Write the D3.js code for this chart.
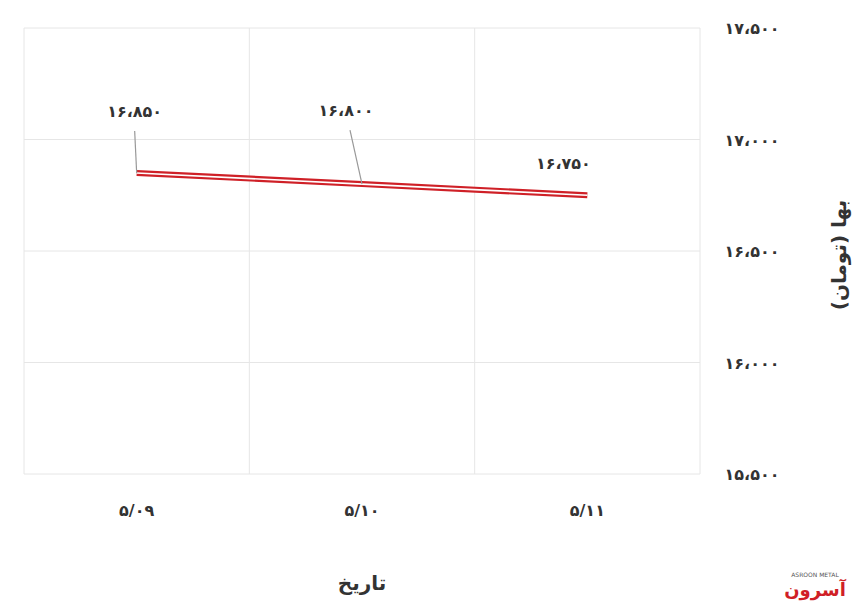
<!DOCTYPE html>
<html><head><meta charset="utf-8">
<script src="https://cdn.jsdelivr.net/npm/d3@7"></script>
<style>body{margin:0;background:#fff}text{font-family:"DejaVu Sans",sans-serif}</style>
</head><body><svg id="c" width="860" height="608"></svg>
<script>
const categories=["5/09","5/10","5/11"];
const values=[16850,16800,16750];
const yTicks=[15500,16000,16500,17000,17500];
const labelOffsets=[[-2,-60],[-12,-72],[-20,-30]];
const fa=s=>String(s).replace(/\d/g,d=>"۰۱۲۳۴۵۶۷۸۹"[d]);
const faNum=n=>fa(d3.format(",")(n)).replace(/,/g,"،");
const svg=d3.select("#c");
const L=24,R=700,T=28,B=474;
const x=d3.scaleBand().domain(categories).range([L,R]);
const y=d3.scaleLinear().domain([15500,17500]).range([B,T]);
const g=svg.append("g");
g.selectAll(".h").data(yTicks).join("line").attr("x1",L).attr("x2",R).attr("y1",d=>y(d)).attr("y2",d=>y(d)).attr("stroke","#e6e6e6");
g.selectAll(".v").data([L,...categories.map(c=>x(c)+x.bandwidth())]).join("line").attr("x1",d=>d).attr("x2",d=>d).attr("y1",T).attr("y2",B).attr("stroke","#e6e6e6");
g.selectAll(".yl").data(yTicks).join("text").attr("x",752).attr("y",d=>y(d)+6).attr("text-anchor","middle").attr("font-size",16).attr("font-weight","bold").attr("fill","#333").text(faNum);
g.selectAll(".xl").data(categories).join("text").attr("x",d=>x(d)+x.bandwidth()/2).attr("y",516).attr("text-anchor","middle").attr("font-size",16).attr("font-weight","bold").attr("fill","#333").text(d=>{const [a,b]=d.split("/");return fa(a)+"/"+fa(b);});
const line=d3.line().x((d,i)=>x(categories[i])+x.bandwidth()/2).y(d=>y(d));
g.append("path").datum(values).attr("d",line).attr("fill","none").attr("stroke","#cf2027").attr("stroke-width",6);
g.append("path").datum(values).attr("d",line).attr("fill","none").attr("stroke","#fff").attr("stroke-width",1.6);
values.forEach((v,i)=>{
  const px=x(categories[i])+x.bandwidth()/2, py=y(v);
  const [dx,dy]=labelOffsets[i];
  if(i<2) g.append("line").attr("x1",px).attr("y1",py).attr("x2",px+dx).attr("y2",py+dy+18).attr("stroke","#999").attr("stroke-width",1.2);
  g.append("text").attr("x",px+dx-(i==0?0:4)).attr("y",py+dy+4).attr("text-anchor","middle").attr("font-size",16).attr("font-weight","bold").attr("fill","#333").text(faNum(v));
});
svg.append("text").attr("x",362).attr("y",590).attr("text-anchor","middle").attr("font-size",20).attr("font-weight","bold").attr("fill","#333").text("تاریخ");
svg.append("text").attr("transform","translate(846,255) rotate(-90)").attr("text-anchor","middle").attr("font-size",20).attr("font-weight","bold").attr("fill","#333").text("بها (تومان)");
svg.append("text").attr("x",815).attr("y",577).attr("text-anchor","middle").attr("font-size",6).attr("fill","#555").text("ASROON METAL");
svg.append("text").attr("x",815).attr("y",596).attr("text-anchor","middle").attr("font-size",18).attr("font-weight","bold").attr("fill","#d01f26").text("آسرون");
</script></body></html>
